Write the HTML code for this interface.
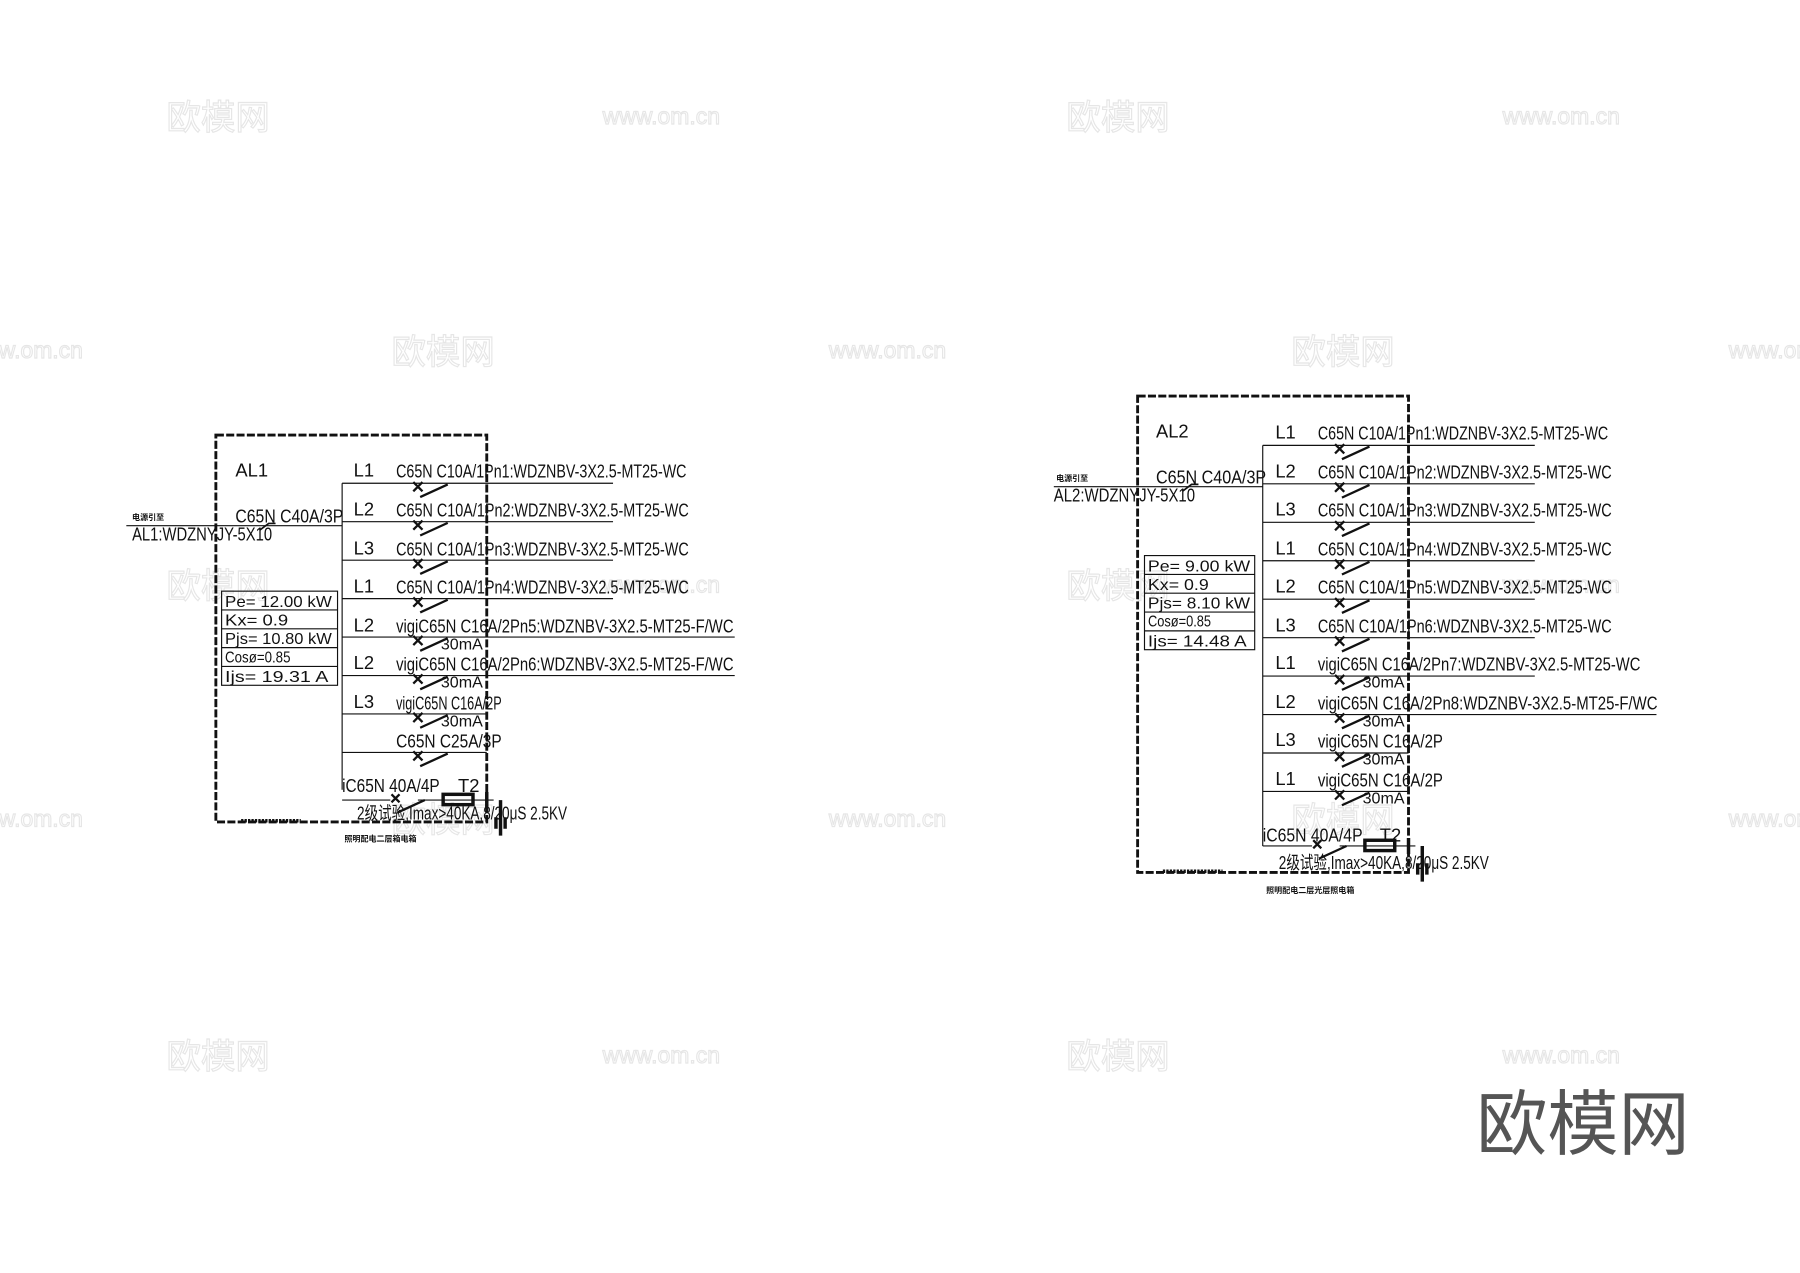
<!DOCTYPE html>
<html><head><meta charset="utf-8"><style>
html,body{margin:0;padding:0;background:#fff;}
svg{display:block;}
.t{font-family:"Liberation Sans","Noto Sans CJK SC",sans-serif;font-size:16px;fill:#111;}
.s{font-family:"Noto Sans CJK SC",sans-serif;font-size:7px;fill:#111;font-weight:bold;}
.w1{font-family:"Noto Sans CJK SC",sans-serif;font-size:30px;fill:none;stroke:#e6e6e6;stroke-width:1;}
.w2{font-family:"Liberation Sans",sans-serif;font-size:20px;fill:none;stroke:#e6e6e6;stroke-width:1;}
</style></head><body>
<svg width="1800" height="1273" viewBox="0 0 1568 1109" xmlns="http://www.w3.org/2000/svg">
<rect width="1568" height="1109" fill="#fff"/>
<g>
<text class="w1" x="145" y="113">欧模网</text><text class="w2" x="525" y="108">www.om.cn</text>
<text class="w1" x="929" y="113">欧模网</text><text class="w2" x="1309" y="108">www.om.cn</text>
<text class="w2" x="-30" y="312">www.om.cn</text><text class="w1" x="341" y="317">欧模网</text><text class="w2" x="722" y="312">www.om.cn</text><text class="w1" x="1125" y="317">欧模网</text><text class="w2" x="1506" y="312">www.om.cn</text>
<text class="w1" x="145" y="521">欧模网</text><text class="w2" x="525" y="516">www.om.cn</text>
<text class="w1" x="929" y="521">欧模网</text><text class="w2" x="1309" y="516">www.om.cn</text>
<text class="w2" x="-30" y="720">www.om.cn</text><text class="w1" x="341" y="725">欧模网</text><text class="w2" x="722" y="720">www.om.cn</text><text class="w1" x="1125" y="725">欧模网</text><text class="w2" x="1506" y="720">www.om.cn</text>
<text class="w1" x="145" y="931">欧模网</text><text class="w2" x="525" y="926">www.om.cn</text>
<text class="w1" x="929" y="931">欧模网</text><text class="w2" x="1309" y="926">www.om.cn</text>
</g>
<text x="1286" y="1001" font-family="Noto Sans CJK SC,sans-serif" font-size="62" fill="#555">欧模网</text>

<!-- PANEL 1 -->
<g stroke="#111" fill="none">
<rect x="188" y="379" width="236" height="337" stroke-width="2.5" stroke-dasharray="7,2"/>
<line x1="110" y1="458" x2="298" y2="458" stroke-width="1"/>
<path d="M226 462 L234 456 L240 456" stroke-width="1.5"/>
<line x1="298" y1="421" x2="298" y2="688" stroke-width="1"/>
<rect x="193" y="515" width="101" height="82" stroke-width="1"/>
<path d="M193 531.4H294M193 547.8H294M193 564.2H294M193 580.6H294" stroke-width="1"/>
<path d="M210 715H262" stroke-width="3" stroke-dasharray="2,1"/>
</g>
<g class="t">
<text x="205" y="415">AL1</text>
<text x="205" y="455" textLength="94" lengthAdjust="spacingAndGlyphs">C65N C40A/3P</text>
<text x="115" y="471" textLength="122" lengthAdjust="spacingAndGlyphs">AL1:WDZNYJY-5X10</text>
<text x="196" y="529" font-size="14" textLength="93" lengthAdjust="spacingAndGlyphs">Pe=  12.00  kW</text>
<text x="196" y="545" font-size="14" textLength="55" lengthAdjust="spacingAndGlyphs">Kx=   0.9</text>
<text x="196" y="561" font-size="14" textLength="93" lengthAdjust="spacingAndGlyphs">Pjs= 10.80  kW</text>
<text x="196" y="577" font-size="14" textLength="57" lengthAdjust="spacingAndGlyphs">Cosø=0.85</text>
<text x="196" y="594" font-size="14" textLength="90" lengthAdjust="spacingAndGlyphs">Ijs=  19.31   A</text>
</g>
<text class="s" x="115" y="453">电源引至</text>
<text class="s" x="300" y="733">照明配电二层箱电箱</text>

<g stroke="#111" fill="none" stroke-width="1">
<path d="M298 421H534M298 454.5H534M298 488H534M298 521.5H534M298 555H640M298 588.5H640M298 622H424M298 655.5H424"/>
<path d="M360 420l8 8M368 420l-8 8M366 433l24 -11 M360 453.5l8 8M368 453.5l-8 8M366 466.5l24 -11 M360 487l8 8M368 487l-8 8M366 500l24 -11 M360 520.5l8 8M368 520.5l-8 8M366 533.5l24 -11 M360 554l8 8M368 554l-8 8M366 567l24 -11 M360 587.5l8 8M368 587.5l-8 8M366 600.5l24 -11 M360 621l8 8M368 621l-8 8M366 634l24 -11 M360 654.5l8 8M368 654.5l-8 8M366 667.5l24 -11" stroke-width="2"/>
<path d="M298 697H340M364 697H430" stroke-width="1"/>
<path d="M341 692l7 7M348 692l-7 7M346 708l24 -11" stroke-width="2"/>
<rect x="386" y="692" width="26" height="9" stroke-width="3"/>
<path d="M424 690V704M436 697V728M432 712V722M440 712V722" stroke-width="3"/>
</g>
<g class="t">
<text x="308" y="415">L1</text><text x="345" y="416" textLength="253" lengthAdjust="spacingAndGlyphs">C65N C10A/1Pn1:WDZNBV-3X2.5-MT25-WC</text>
<text x="308" y="449">L2</text><text x="345" y="450" textLength="255" lengthAdjust="spacingAndGlyphs">C65N C10A/1Pn2:WDZNBV-3X2.5-MT25-WC</text>
<text x="308" y="483">L3</text><text x="345" y="484" textLength="255" lengthAdjust="spacingAndGlyphs">C65N C10A/1Pn3:WDZNBV-3X2.5-MT25-WC</text>
<text x="308" y="516">L1</text><text x="345" y="517" textLength="255" lengthAdjust="spacingAndGlyphs">C65N C10A/1Pn4:WDZNBV-3X2.5-MT25-WC</text>
<text x="308" y="550">L2</text><text x="345" y="551" textLength="294" lengthAdjust="spacingAndGlyphs">vigiC65N C16A/2Pn5:WDZNBV-3X2.5-MT25-F/WC</text><text x="384" y="566" font-size="14">30mA</text>
<text x="308" y="583">L2</text><text x="345" y="584" textLength="294" lengthAdjust="spacingAndGlyphs">vigiC65N C16A/2Pn6:WDZNBV-3X2.5-MT25-F/WC</text><text x="384" y="599" font-size="14">30mA</text>
<text x="308" y="617">L3</text><text x="345" y="618" textLength="92" lengthAdjust="spacingAndGlyphs">vigiC65N C16A/2P</text><text x="384" y="633" font-size="14">30mA</text>
<text x="345" y="651" textLength="92" lengthAdjust="spacingAndGlyphs">C65N C25A/3P</text>
<text x="298" y="690" textLength="85" lengthAdjust="spacingAndGlyphs">iC65N  40A/4P</text><text x="399" y="690">T2</text>
<text x="311" y="714" textLength="183" lengthAdjust="spacingAndGlyphs">2级试验,Imax&gt;40KA,8/20μS 2.5KV</text>
</g>

<!-- PANEL 2 -->
<g stroke="#111" fill="none">
<rect x="991" y="345" width="236" height="415" stroke-width="2.5" stroke-dasharray="7,2"/>
<line x1="918" y1="424" x2="1100" y2="424" stroke-width="1"/>
<path d="M1030 428 L1038 422 L1044 422" stroke-width="1.5"/>
<line x1="1100" y1="388" x2="1100" y2="737" stroke-width="1"/>
<rect x="997" y="484" width="96" height="82" stroke-width="1"/>
<path d="M997 500.4H1093M997 516.8H1093M997 533.2H1093M997 549.6H1093" stroke-width="1"/>
<path d="M1013 759H1065" stroke-width="3" stroke-dasharray="2,1"/>
<path d="M1100 388H1337M1100 421.5H1337M1100 455H1337M1100 488.5H1337M1100 522H1337M1100 555.5H1337M1100 589H1337M1100 622.5H1443M1100 656H1227M1100 689.5H1227" stroke-width="1"/>
<path d="M1163 387l8 8M1171 387l-8 8M1169 400l24 -11 M1163 420.5l8 8M1171 420.5l-8 8M1169 433.5l24 -11 M1163 454l8 8M1171 454l-8 8M1169 467l24 -11 M1163 487.5l8 8M1171 487.5l-8 8M1169 500.5l24 -11 M1163 521l8 8M1171 521l-8 8M1169 534l24 -11 M1163 554.5l8 8M1171 554.5l-8 8M1169 567.5l24 -11 M1163 588l8 8M1171 588l-8 8M1169 601l24 -11 M1163 621.5l8 8M1171 621.5l-8 8M1169 634.5l24 -11 M1163 655l8 8M1171 655l-8 8M1169 668l24 -11 M1163 688.5l8 8M1171 688.5l-8 8M1169 701.5l24 -11" stroke-width="2"/>
<path d="M1100 737H1143M1167 737H1233" stroke-width="1"/>
<path d="M1144 732l7 7M1151 732l-7 7M1149 748l24 -11" stroke-width="2"/>
<rect x="1189" y="732" width="26" height="9" stroke-width="3"/>
<path d="M1227 730V744M1239 737V768M1235 752V762M1243 752V762" stroke-width="3"/>
</g>
<g class="t">
<text x="1007" y="381">AL2</text>
<text x="1007" y="421" textLength="96" lengthAdjust="spacingAndGlyphs">C65N C40A/3P</text>
<text x="918" y="437" textLength="123" lengthAdjust="spacingAndGlyphs">AL2:WDZNYJY-5X10</text>
<text x="1000" y="498" font-size="14" textLength="89" lengthAdjust="spacingAndGlyphs">Pe=   9.00   kW</text>
<text x="1000" y="514" font-size="14" textLength="53" lengthAdjust="spacingAndGlyphs">Kx=   0.9</text>
<text x="1000" y="530" font-size="14" textLength="89" lengthAdjust="spacingAndGlyphs">Pjs=  8.10   kW</text>
<text x="1000" y="546" font-size="14" textLength="55" lengthAdjust="spacingAndGlyphs">Cosø=0.85</text>
<text x="1000" y="563" font-size="14" textLength="86" lengthAdjust="spacingAndGlyphs">Ijs=  14.48    A</text>
<text x="1111" y="382">L1</text><text x="1148" y="383" textLength="253" lengthAdjust="spacingAndGlyphs">C65N C10A/1Pn1:WDZNBV-3X2.5-MT25-WC</text>
<text x="1111" y="416">L2</text><text x="1148" y="417" textLength="256" lengthAdjust="spacingAndGlyphs">C65N C10A/1Pn2:WDZNBV-3X2.5-MT25-WC</text>
<text x="1111" y="449">L3</text><text x="1148" y="450" textLength="256" lengthAdjust="spacingAndGlyphs">C65N C10A/1Pn3:WDZNBV-3X2.5-MT25-WC</text>
<text x="1111" y="483">L1</text><text x="1148" y="484" textLength="256" lengthAdjust="spacingAndGlyphs">C65N C10A/1Pn4:WDZNBV-3X2.5-MT25-WC</text>
<text x="1111" y="516">L2</text><text x="1148" y="517" textLength="256" lengthAdjust="spacingAndGlyphs">C65N C10A/1Pn5:WDZNBV-3X2.5-MT25-WC</text>
<text x="1111" y="550">L3</text><text x="1148" y="551" textLength="256" lengthAdjust="spacingAndGlyphs">C65N C10A/1Pn6:WDZNBV-3X2.5-MT25-WC</text>
<text x="1111" y="583">L1</text><text x="1148" y="584" textLength="281" lengthAdjust="spacingAndGlyphs">vigiC65N C16A/2Pn7:WDZNBV-3X2.5-MT25-WC</text><text x="1187" y="599" font-size="14">30mA</text>
<text x="1111" y="617">L2</text><text x="1148" y="618" textLength="296" lengthAdjust="spacingAndGlyphs">vigiC65N C16A/2Pn8:WDZNBV-3X2.5-MT25-F/WC</text><text x="1187" y="633" font-size="14">30mA</text>
<text x="1111" y="650">L3</text><text x="1148" y="651" textLength="109" lengthAdjust="spacingAndGlyphs">vigiC65N C16A/2P</text><text x="1187" y="666" font-size="14">30mA</text>
<text x="1111" y="684">L1</text><text x="1148" y="685" textLength="109" lengthAdjust="spacingAndGlyphs">vigiC65N C16A/2P</text><text x="1187" y="700" font-size="14">30mA</text>
<text x="1100" y="733" textLength="87" lengthAdjust="spacingAndGlyphs">iC65N  40A/4P</text><text x="1202" y="733">T2</text>
<text x="1114" y="757" textLength="183" lengthAdjust="spacingAndGlyphs">2级试验,Imax&gt;40KA,8/20μS 2.5KV</text>
</g>
<text class="s" x="920" y="419">电源引至</text>
<text class="s" x="1103" y="778">照明配电二层光层照电箱</text>
</svg>
</body></html>
